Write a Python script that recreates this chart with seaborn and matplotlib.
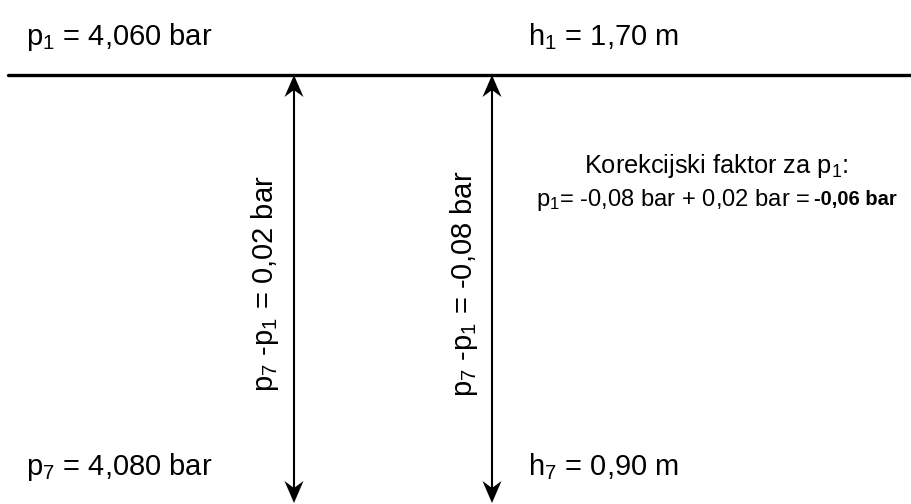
import matplotlib
matplotlib.use("Agg")
import matplotlib.pyplot as plt
import seaborn as sns
import pandas as pd

sns.set_theme(style="white")
plt.rcParams["font.family"] = ["Liberation Sans", "DejaVu Sans"]
plt.rcParams["text.color"] = "black"
plt.rcParams["mathtext.fontset"] = "custom"
plt.rcParams["mathtext.rm"] = "Liberation Sans"
plt.rcParams["mathtext.it"] = "Liberation Sans:italic"
plt.rcParams["mathtext.bf"] = "Liberation Sans:bold"

# ---- data / labels ----
p1_label = "p$_{\\mathregular{1}}$ = 4,060 bar"
h1_label = "h$_{\\mathregular{1}}$ = 1,70 m"
p7_label = "p$_{\\mathregular{7}}$ = 4,080 bar"
h7_label = "h$_{\\mathregular{7}}$ = 0,90 m"
diff_labels = ["p$_{\\mathregular{7}}$ -p$_{\\mathregular{1}}$ = 0,02 bar",
               "p$_{\\mathregular{7}}$ -p$_{\\mathregular{1}}$ = -0,08 bar"]
corr_title = "Korekcijski faktor za p$_{\\mathregular{1}}$:"
corr_expr = "p$_{\\mathregular{1}}$= -0,08 bar + 0,02 bar ="
corr_result = "-0,06 bar"

# ---- layout (pixel-like coordinates) ----
W, H = 911, 504
line_y = 75
arrow_x = [294, 492]
arrow_top, arrow_bot = 75, 503

fig = plt.figure(figsize=(W / 100, H / 100), dpi=100)
ax = fig.add_axes([0, 0, 1, 1])
ax.set_xlim(0, W)
ax.set_ylim(H, 0)
ax.axis("off")

# horizontal reference line
hl = pd.DataFrame({"x": [8, W], "y": [line_y, line_y]})
sns.lineplot(data=hl, x="x", y="y", ax=ax, color="black", linewidth=2.4,
             estimator=None, sort=False)

# double arrows
hl_len, hw, notch = 22, 9.5, 15
for x in arrow_x:
    seg = pd.DataFrame({"x": [x, x], "y": [arrow_top + notch, arrow_bot - notch]})
    sns.lineplot(data=seg, x="x", y="y", ax=ax, color="black", linewidth=1.5,
                 estimator=None, sort=False)
    ax.fill([x, x - hw, x, x + hw],
            [arrow_top, arrow_top + hl_len, arrow_top + notch, arrow_top + hl_len],
            color="black", lw=0)
    ax.fill([x, x - hw, x, x + hw],
            [arrow_bot, arrow_bot - hl_len, arrow_bot - notch, arrow_bot - hl_len],
            color="black", lw=0)

fs_big = 21
ax.text(26, 37, p1_label, fontsize=fs_big, ha="left", va="center", color="black")
ax.text(528, 37, h1_label, fontsize=fs_big, ha="left", va="center", color="black")
ax.text(26, 467, p7_label, fontsize=fs_big, ha="left", va="center", color="black")
ax.text(528, 467, h7_label, fontsize=fs_big, ha="left", va="center", color="black")

for x, lab in zip([265, 464], diff_labels):
    ax.text(x, 284, lab, fontsize=fs_big, rotation=90, ha="center", va="center",
            color="black")

ax.text(716, 166, corr_title, fontsize=18.3, ha="center", va="center", color="black")
ax.text(810, 200, corr_expr, fontsize=17.1, ha="right", va="center", color="black")
ax.text(814, 200, corr_result, fontsize=14.5, ha="left", va="center",
        fontweight="bold", color="black")

fig.savefig("out.png", dpi=100)
